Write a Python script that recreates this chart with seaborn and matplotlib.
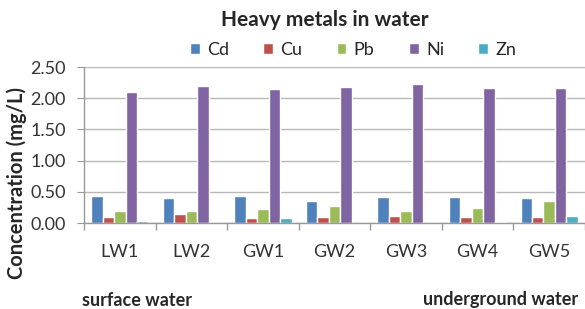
import pandas as pd
import numpy as np

import matplotlib
matplotlib.use("Agg")
import matplotlib.pyplot as plt
import seaborn as sns

sites = ["LW1", "LW2", "GW1", "GW2", "GW3", "GW4", "GW5"]
metals = ["Cd", "Cu", "Pb", "Ni", "Zn"]

cd = [0.43, 0.40, 0.43, 0.36, 0.42, 0.42, 0.40]
cu = [0.09, 0.14, 0.08, 0.09, 0.12, 0.09, 0.09]
pb = [0.19, 0.19, 0.23, 0.28, 0.19, 0.24, 0.36]
ni = [2.10, 2.19, 2.14, 2.18, 2.23, 2.16, 2.17]
zn = [0.04, 0.00, 0.08, 0.00, 0.00, 0.02, 0.12]

colors = ["#4F81BD", "#C0504D", "#9BBB59", "#8064A2", "#4BACC6"]
yticks = [0.0, 0.5, 1.0, 1.5, 2.0, 2.5]


def build_frame():
    values = {"Cd": cd, "Cu": cu, "Pb": pb, "Ni": ni, "Zn": zn}
    rows = []
    for m in metals:
        for s, v in zip(sites, values[m]):
            rows.append({"site": s, "metal": m, "conc": v})
    return pd.DataFrame(rows)


def draw():
    df = build_frame()
    sns.set_style("white")
    plt.rcParams['font.family'] = ['Lato', 'DejaVu Sans']

    fig = plt.figure(figsize=(5.85, 3.09), dpi=100)
    ax = fig.add_axes([84 / 585, 1 - 223 / 309, 501 / 585, 156 / 309])

    sns.barplot(data=df, x="site", y="conc", hue="metal", order=sites,
                hue_order=metals, palette=colors, width=0.8, ax=ax,
                saturation=1, legend=True)

    ax.set_ylim(0, 2.5)
    ax.set_xlim(-0.5, len(sites) - 0.5)
    ax.set_yticks(yticks)
    ax.set_yticklabels(["%.2f" % t for t in yticks], fontsize=13, color="#333333")
    ax.yaxis.grid(True, color="#b8b8b8", linewidth=1)
    ax.set_axisbelow(True)

    # group separators as ticks
    ax.set_xticks(np.arange(len(sites) + 1) - 0.5, minor=False)
    ax.set_xticklabels([])
    ax.set_xticks(np.arange(len(sites)), minor=True)
    ax.set_xticklabels(sites, minor=True, fontsize=13, color="#333333")
    ax.tick_params(axis="x", which="major", length=5, color="#999999", width=1, direction="out")
    ax.tick_params(axis="x", which="minor", length=0, pad=15)
    ax.tick_params(axis="y", length=5, color="#999999", pad=8)
    ax.xaxis.set_ticks_position("bottom")
    ax.yaxis.set_ticks_position("left")

    for side in ["top", "right"]:
        ax.spines[side].set_visible(False)
    for side in ["left", "bottom"]:
        ax.spines[side].set_color("#999999")
        ax.spines[side].set_linewidth(1)

    ax.set_xlabel("")
    ax.set_ylabel("")
    fig.text(17 / 585, 1 - 183 / 309, "Concentration (mg/L)", rotation=90,
             ha="center", va="center", fontsize=14.5, fontweight="bold")

    fig.text(325 / 585, 1 - 20 / 309, "Heavy metals in water", ha="center",
             va="center", fontsize=15, fontweight="bold")

    handles, labels = ax.get_legend_handles_labels()
    ax.legend(handles, labels, ncol=5, frameon=False, fontsize=13,
              loc="center", bbox_to_anchor=(353 / 585, 1 - 50 / 309),
              bbox_transform=fig.transFigure, handlelength=0.55,
              handleheight=0.55, handletextpad=0.4, columnspacing=1.9)

    fig.text(82 / 585, 1 - 300 / 309, "surface water", ha="left", va="center",
             fontsize=13, fontweight="bold")
    fig.text(578 / 585, 1 - 300 / 309, "underground water", ha="right",
             va="center", fontsize=13, fontweight="bold")

    fig.savefig("out.png", dpi=100)


if __name__ == '__main__':
    draw()
